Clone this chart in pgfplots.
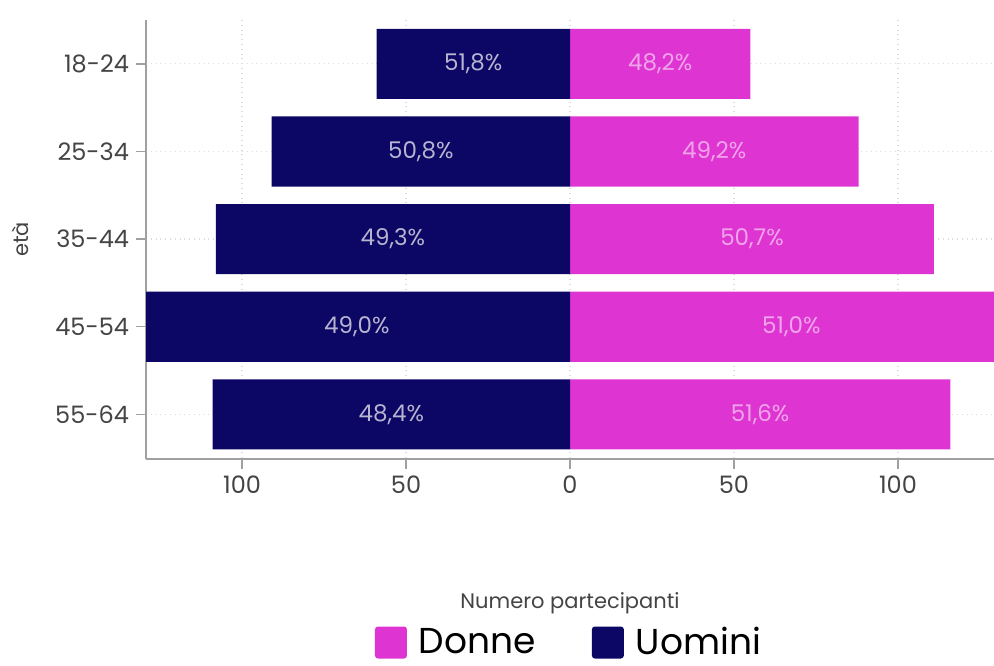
\documentclass[border=0pt]{standalone}
\usepackage{pgfplots}
\pgfplotsset{compat=1.18}
\usepackage{pgfplotstable}
\usepackage{fontspec}
\setmainfont{Poppins}
\definecolor{navy}{HTML}{0C0664}
\definecolor{pinkb}{HTML}{DE35D2}
\definecolor{tickgray}{HTML}{444444}
\definecolor{axgray}{HTML}{A0A0A0}
\definecolor{gridgray}{HTML}{DCDCDC}

\pgfplotstableread{
pos u d ul dl
0 -59 55 51,8 48,2
1 -91 88 50,8 49,2
2 -108 111 49,3 50,7
3 -130 135 49,0 51,0
4 -109 116 48,4 51,6
}\data

\begin{document}
\begin{tikzpicture}
\begin{axis}[
  scale only axis,
  width=424pt, height=219.5pt,
  xmin=-129.3, xmax=129.3,
  ymin=-0.5, ymax=4.51,
  y dir=reverse,
  axis lines*=left,
  axis line style={axgray, line width=0.8pt},
  xtick={-100,-50,0,50,100},
  xticklabels={100,50,0,50,100},
  ytick={0,1,2,3,4},
  yticklabels={18-24,25-34,35-44,45-54,55-64},
  tick align=outside,
  major tick length=5pt,
  tick style={axgray, line width=0.7pt},
  ticklabel style={font=\fontsize{12}{14}\selectfont, text=tickgray},
  /pgf/number format/assume math mode=true,
  xmajorgrids, ymajorgrids,
  grid style={gridgray, dotted, line width=0.6pt},
  xlabel={Numero partecipanti},
  xlabel style={at={(axis description cs:0.5,-0.329)}, anchor=center, font=\fontsize{10.5}{12}\selectfont, text=tickgray},
  ylabel={età},
  ylabel style={at={(axis description cs:-0.1486,0.5)}, anchor=center, font=\fontsize{10.5}{12}\selectfont, text=tickgray},
  legend style={at={(axis description cs:0.5,-0.418)}, anchor=center, draw=none, fill=none,
    legend columns=2, font=\fontsize{18}{21}\selectfont, inner sep=0pt,
    /tikz/every odd column/.append style={column sep=4pt},
    /tikz/every even column/.append style={column sep=26pt}},
  legend image code/.code={\fill[#1, rounded corners=1.5pt] (0pt,-8pt) rectangle (16pt,8pt);},
  legend cell align=left,
]
\addplot[xbar, bar width=0.8, bar shift=0pt, fill=pinkb, draw=none] table[x=d, y=pos]{\data};
\addlegendentry{Donne}
\addplot[xbar, bar width=0.8, bar shift=0pt, fill=navy, draw=none] table[x=u, y=pos]{\data};
\addlegendentry{Uomini}
\addplot[forget plot, draw=none, mark=none, point meta=explicit symbolic,
  nodes near coords={\pgfplotspointmeta\%},
  every node near coord/.style={anchor=center, font=\fontsize{11.5}{13}\selectfont, text=white, text opacity=0.7}]
  table[x expr=\thisrow{u}/2, y=pos, meta=ul]{\data};
\addplot[forget plot, draw=none, mark=none, point meta=explicit symbolic,
  nodes near coords={\pgfplotspointmeta\%},
  every node near coord/.style={anchor=center, font=\fontsize{11.5}{13}\selectfont, text=white, text opacity=0.55}]
  table[x expr=\thisrow{d}/2, y=pos, meta=dl]{\data};
\coordinate (bl) at (rel axis cs:-0.1722,-0.4715);
\coordinate (tr) at (rel axis cs:1,1.0456);
\end{axis}
\pgfresetboundingbox
\path[use as bounding box] (bl) rectangle (tr);
\end{tikzpicture}
\end{document}
